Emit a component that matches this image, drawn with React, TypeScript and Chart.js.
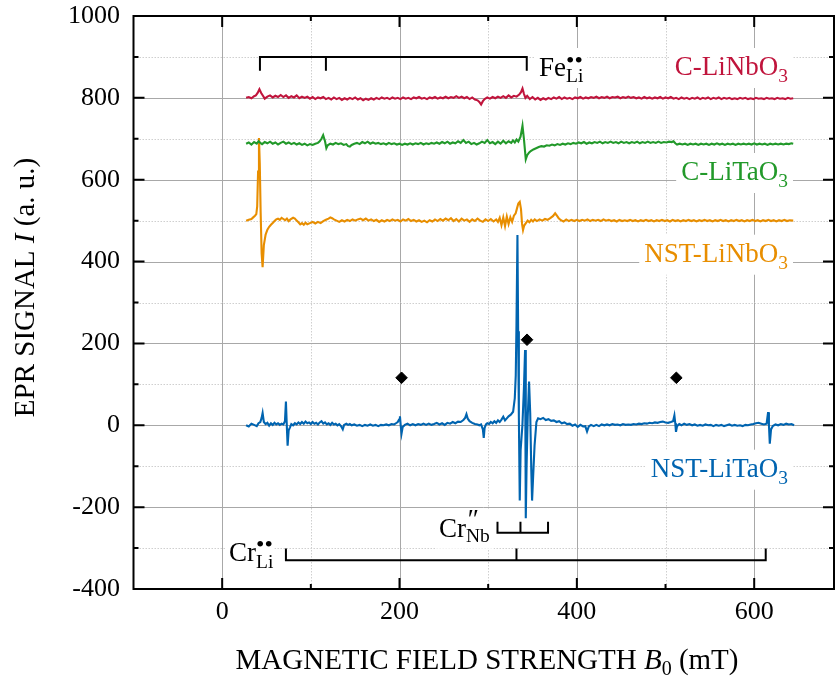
import React, { useEffect, useRef } from 'react';
import { Chart, registerables } from 'chart.js';
Chart.register(...registerables);

const FONT = '"Liberation Serif", "Times New Roman", serif';

// axis ticks
const fieldRange = [-100, 690];
const signalRange = [-400, 1000];
const fieldTicks = [0, 200, 400, 600];
const fieldMinor = [100, 300, 500];
const signalTicks = [-400, -200, 0, 200, 400, 600, 800, 1000];
const signalMinor = [-300, -100, 100, 300, 500, 700, 900];

// series [B0 (mT), I (a.u.)]
const cLiNbO3 = [[27,800],[30,802],[33,799],[36,804],[38,806],[40,812],[42,821],[44,812],[46,805],[48,798],[51,803],[54,806],[57,801],[60,805],[63,802],[66,807],[69,802],[72,806],[75,800],[78,804],[81,801],[84,806],[87,799],[90,803],[93,800],[96,803],[99,798],[102,802],[105,797],[108,801],[111,799],[114,802],[117,797],[120,800],[123,796],[126,801],[129,797],[132,800],[135,795],[138,799],[141,796],[144,800],[147,797],[150,801],[153,796],[156,799],[159,794],[162,798],[165,795],[168,799],[171,796],[174,800],[177,797],[180,801],[183,798],[186,800],[189,797],[192,801],[195,798],[198,800],[201,797],[204,801],[207,798],[210,800],[213,797],[216,801],[219,799],[222,802],[225,798],[228,800],[231,797],[234,801],[237,799],[240,802],[243,798],[246,801],[249,799],[252,803],[255,799],[258,802],[261,800],[264,804],[267,800],[270,803],[273,799],[276,802],[279,797],[282,801],[285,796],[288,794],[290,790],[292,784],[294,792],[296,797],[299,801],[302,798],[305,802],[308,799],[311,803],[314,800],[317,804],[320,800],[323,806],[326,801],[329,805],[332,803],[335,808],[337,814],[338.7,823],[340.3,810],[342,800],[344,805],[347,797],[350,802],[353,796],[356,800],[359,795],[362,799],[365,796],[368,800],[371,797],[374,801],[377,798],[380,802],[383,797],[386,801],[389,798],[392,800],[395,797],[398,801],[401,799],[404,802],[407,798],[410,801],[413,799],[416,802],[419,800],[422,803],[425,799],[428,802],[431,800],[434,803],[437,799],[440,802],[443,801],[446,803],[449,799],[452,802],[455,800],[458,803],[461,800],[464,802],[467,799],[470,801],[473,798],[476,802],[479,799],[482,801],[485,798],[488,801],[491,799],[494,802],[497,798],[500,801],[503,799],[506,802],[509,798],[512,800],[515,797],[518,801],[521,798],[524,800],[527,797],[530,800],[533,798],[536,801],[539,797],[542,800],[545,798],[548,801],[551,797],[554,800],[557,798],[560,801],[563,797],[566,800],[569,798],[572,800],[575,797],[578,799],[581,797],[584,800],[587,798],[590,800],[593,797],[596,799],[599,797],[602,800],[605,798],[608,799],[611,797],[614,800],[617,798],[620,799],[623,797],[626,800],[629,798],[632,799],[635,797],[638,800],[641,798],[644,799]];

const cLiTaO3 = [[27,688],[30,691],[33,686],[36,692],[39,688],[41,694],[43,690],[45,687],[48,692],[51,689],[54,693],[57,688],[60,691],[63,686],[66,690],[69,693],[72,688],[75,691],[78,687],[81,690],[84,686],[87,689],[90,685],[93,688],[96,684],[99,687],[102,685],[105,688],[108,690],[110,694],[112,700],[113.9,709],[116,694],[117.5,677],[119,684],[122,688],[125,686],[128,690],[131,687],[134,689],[137,685],[140,687],[142,682],[144,681],[146,685],[149,688],[152,690],[155,687],[158,692],[161,689],[164,693],[167,688],[170,691],[173,688],[176,690],[179,687],[182,689],[185,686],[188,690],[191,687],[194,689],[197,686],[200,688],[203,685],[206,688],[209,686],[212,689],[215,686],[218,689],[221,687],[224,690],[227,686],[230,689],[233,687],[236,690],[239,688],[242,691],[245,688],[248,692],[251,689],[254,693],[257,688],[260,691],[263,689],[266,694],[269,690],[272,697],[275,690],[278,693],[281,687],[284,690],[287,686],[290,689],[293,693],[296,690],[299,697],[302,689],[305,692],[308,687],[311,693],[314,688],[317,695],[320,689],[323,694],[326,690],[328,696],[330,691],[332,698],[334,693],[336.5,705],[338.7,732],[340.3,700],[342.4,650],[344,660],[346,666],[348,670],[351,674],[354,677],[357,680],[360,682],[363,681],[366,684],[369,683],[372,686],[375,684],[378,687],[381,685],[384,688],[387,686],[390,689],[393,687],[396,690],[399,688],[402,691],[405,689],[408,692],[411,688],[414,691],[417,689],[420,692],[423,690],[426,693],[429,689],[432,692],[435,690],[438,693],[441,690],[444,692],[447,689],[450,693],[453,690],[456,692],[459,689],[462,692],[465,690],[468,693],[471,689],[474,692],[477,690],[480,693],[483,690],[486,692],[489,690],[492,693],[495,690],[498,692],[501,691],[504,693],[507,692],[509,694],[511,689],[513,686],[516,688],[519,686],[522,688],[525,685],[528,688],[531,686],[534,688],[537,685],[540,688],[543,686],[546,688],[549,685],[552,688],[555,686],[558,689],[561,686],[564,688],[567,685],[570,688],[573,686],[576,688],[579,685],[582,688],[585,686],[588,688],[591,686],[594,688],[597,686],[600,689],[603,686],[606,688],[609,686],[612,688],[615,685],[618,688],[621,686],[624,688],[627,686],[630,688],[633,686],[636,688],[639,687],[642,689],[644,688]];

const nstLiNbO3 = [[27,500],[30,502],[33,504],[35,508],[37,512],[38.5,516],[39.5,535],[40.5,620],[41.5,702],[42.4,640],[43.4,520],[44.5,420],[45.6,386],[47,440],[49,466],[51,478],[53,485],[55,490],[57,494],[59,499],[61,503],[63,505],[65,502],[67,507],[69,504],[71,501],[73,505],[75,499],[77,503],[80,507],[82,505],[84,500],[86,496],[88,491],[90,494],[92,490],[94,495],[96,491],[99,494],[102,497],[105,493],[108,497],[111,494],[114,499],[117,502],[120,505],[122,508],[124,506],[126,503],[129,500],[132,497],[135,501],[138,498],[141,502],[144,499],[147,503],[150,500],[153,503],[156,505],[159,501],[162,505],[165,500],[168,503],[171,499],[174,502],[177,497],[180,501],[183,498],[186,502],[189,499],[192,503],[195,500],[198,502],[201,498],[204,503],[207,500],[210,504],[213,499],[216,502],[219,498],[222,501],[225,497],[228,500],[231,496],[234,501],[237,498],[240,503],[243,499],[246,504],[249,500],[252,505],[255,501],[258,506],[261,499],[264,504],[267,498],[270,505],[273,500],[276,503],[279,497],[282,503],[285,499],[288,505],[291,500],[294,497],[297,503],[300,499],[303,504],[306,498],[309,503],[311,497],[313,507],[315,489],[317,508],[319,487],[321,510],[323,492],[325,508],[327,497],[329,512],[331,518],[332.5,530],[334,542],[335.6,546],[337,528],[338.2,492],[339.3,477],[340.6,488],[342.5,494],[344.5,500],[346.5,496],[348.5,502],[350.5,498],[352.5,503],[355,499],[358,503],[361,500],[364,504],[367,502],[370,506],[373,511],[375.5,518],[377.5,512],[379.5,506],[382,501],[385,498],[388,503],[391,499],[394,502],[397,499],[400,502],[403,499],[406,502],[409,500],[412,503],[415,499],[418,502],[421,500],[424,502],[427,499],[430,503],[433,500],[436,502],[439,499],[442,501],[445,498],[448,502],[451,499],[454,501],[457,499],[460,502],[463,499],[466,501],[469,498],[472,501],[475,499],[478,502],[481,499],[484,501],[487,498],[490,501],[493,499],[496,502],[499,499],[502,501],[505,498],[508,502],[511,499],[514,501],[517,498],[520,501],[523,499],[526,502],[529,499],[532,501],[535,498],[538,501],[541,499],[544,502],[547,499],[550,501],[553,498],[556,501],[559,499],[562,502],[565,499],[568,501],[571,498],[574,501],[577,499],[580,502],[583,499],[586,501],[589,498],[592,501],[595,499],[598,502],[601,499],[604,501],[607,498],[610,501],[613,499],[616,502],[619,499],[622,501],[625,498],[628,501],[631,499],[634,502],[637,499],[640,501],[644,500]];

const nstLiTaO3 = [[27,0],[30,-3],[33,4],[36,1],[39,-2],[41,5],[43,8],[44.5,18],[45.6,30],[47,8],[49,3],[51,6],[53,-1],[55,5],[57,1],[59,6],[61,2],[63,5],[65,1],[67,4],[69,2],[70.8,10],[71.9,58],[72.7,10],[73.8,-50],[75,-12],[76.5,-5],[78,3],[80,0],[82,5],[84,2],[86,7],[88,3],[90,8],[92,4],[94,9],[96,5],[98,7],[100,3],[102,8],[104,4],[106,6],[108,2],[110,7],[112,10],[114,4],[116,7],[118,2],[120,5],[122,1],[124,6],[126,2],[128,4],[130,0],[132,3],[134,-2],[136,-10],[137.5,1],[140,4],[142,1],[144,3],[146,0],[149,2],[152,-1],[155,1],[158,-2],[161,1],[164,-1],[167,2],[170,-1],[173,1],[176,-2],[179,1],[182,0],[185,2],[188,0],[191,3],[194,2],[196,5],[198,8],[199.5,14],[200.5,22],[201.4,-2],[202.3,-20],[203.6,-4],[206,1],[209,4],[212,0],[215,3],[218,0],[221,3],[224,1],[227,4],[230,1],[233,4],[236,1],[239,3],[242,6],[245,2],[248,5],[251,1],[254,6],[257,4],[260,8],[263,5],[266,9],[269,8],[272,13],[274,18],[275.5,27],[277,16],[279,10],[282,6],[285,3],[288,2],[290,0],[292,2],[294,-10],[295,-31],[296,-6],[297.5,2],[299,5],[301,3],[303,8],[305,5],[307,10],[309,6],[311,12],[313,8],[315,14],[317,21],[319,12],[321,17],[323,22],[325.5,26],[328.1,33],[330,66],[331.1,122],[331.9,245],[333,465],[333.8,230],[334.6,20],[335.6,-184],[336.6,-60],[338.6,0],[340.3,90],[341.6,184],[342.4,-227],[343.3,-100],[344.6,20],[346.1,107],[347.4,30],[348.6,-110],[349.5,-184],[350.8,-120],[352.3,-50],[354.4,8],[356.3,17],[359,15],[362,18],[365,13],[368,15],[371,11],[374,12],[377,8],[380,10],[383,5],[386,7],[389,3],[392,4],[395,-1],[398,2],[401,-4],[404,1],[407,-3],[409.5,-2],[411.5,-15],[413.5,-3],[416,1],[419,-2],[422,1],[425,-2],[428,2],[431,0],[434,2],[437,0],[440,3],[443,1],[446,2],[449,0],[452,3],[455,1],[458,2],[461,1],[464,3],[467,2],[470,4],[473,3],[476,5],[479,4],[482,6],[485,5],[488,7],[491,6],[494,8],[497,9],[500,7],[503,6],[506,8],[508.5,10],[510,24],[511,5],[511.8,-16],[513,-2],[515.5,3],[518,0],[521,4],[524,1],[527,3],[530,0],[533,2],[536,-1],[539,1],[542,-1],[545,2],[548,0],[551,1],[554,-2],[557,1],[560,-1],[563,1],[566,-2],[569,0],[572,2],[575,-1],[578,1],[581,-1],[584,0],[587,-2],[590,1],[593,0],[596,2],[599,3],[602,5],[605,6],[608,4],[611,2],[614,4],[615.7,32],[616.6,2],[617.6,-45],[619,-10],[621,-2],[624,2],[627,0],[630,3],[633,1],[636,4],[639,2],[642,3],[645,0]];

// markers and assignment brackets
const diamonds = [[202.3,116],[343.8,209],[512.2,116]];
const feLiBracket = [[42.6,866],[42.6,900],[117,900],[117,866],[117,900],[343.5,900],[343.5,866]];
const crNbBracket = [[310.5,-235.6],[310.5,-262.5],[336.4,-262.5],[336.4,-235.6],[336.4,-262.5],[367.5,-262.5],[367.5,-235.6]];
const crLiBracket = [[71.9,-301],[71.9,-330],[331.9,-330],[331.9,-301],[331.9,-330],[613,-330],[613,-301]];

const COLORS = { red: '#c0143c', green: '#22992a', orange: '#e88e00', blue: '#0064b0' };

type Part = { t: string; size: number; italic?: boolean; dy?: number; sup?: { t: string; size: number; dy: number; dx?: number; italic?: boolean } };
const fnt = (size: number, italic = false) => `${italic ? 'italic ' : ''}${size}px ${FONT}`;

function partWidth(ctx: CanvasRenderingContext2D, p: Part) {
  ctx.font = fnt(p.size, p.italic);
  let w = ctx.measureText(p.t).width;
  if (p.sup) {
    ctx.font = fnt(p.sup.size, p.sup.italic);
    w = Math.max(w, ctx.measureText(p.sup.t).width + (p.sup.dx || 0));
  }
  return w;
}

function drawRich(ctx: CanvasRenderingContext2D, parts: Part[], x: number, y: number, align: 'left' | 'right' | 'center', color: string, box?: [number, number, number, number]) {
  const widths = parts.map((p) => partWidth(ctx, p));
  const total = widths.reduce((a, b) => a + b, 0);
  let cx = align === 'left' ? x : align === 'right' ? x - total : x - total / 2;
  if (box) {
    ctx.fillStyle = '#fff';
    ctx.fillRect(cx - box[0], y - box[1], total + box[0] + box[2], box[1] + box[3]);
  }
  ctx.fillStyle = color;
  ctx.textBaseline = 'alphabetic';
  ctx.textAlign = 'left';
  parts.forEach((p, i) => {
    ctx.font = fnt(p.size, p.italic);
    ctx.fillText(p.t, cx, y + (p.dy || 0));
    if (p.sup) {
      ctx.font = fnt(p.sup.size, p.sup.italic);
      ctx.fillText(p.sup.t, cx + (p.sup.dx || 0), y + p.sup.dy);
    }
    cx += widths[i];
  });
}

const decorPlugin = {
  id: 'decor',
  beforeDatasetsDraw(chart: any) {
    const { ctx, chartArea: a, scales } = chart;
    const xs = scales.x, ys = scales.y;
    ctx.save();
    ctx.lineWidth = 1;
    // grid
    const vline = (v: number) => { const p = Math.round(xs.getPixelForValue(v)) + 0.5; ctx.beginPath(); ctx.moveTo(p, a.top); ctx.lineTo(p, a.bottom); ctx.stroke(); };
    const hline = (v: number) => { const p = Math.round(ys.getPixelForValue(v)) + 0.5; ctx.beginPath(); ctx.moveTo(a.left, p); ctx.lineTo(a.right, p); ctx.stroke(); };
    ctx.strokeStyle = '#cfcfcf';
    ctx.setLineDash([1.5, 1.5]);
    fieldMinor.forEach(vline);
    signalMinor.forEach(hline);
    ctx.setLineDash([]);
    ctx.strokeStyle = '#a8a8a8';
    fieldTicks.filter((v) => v > fieldRange[0] && v < fieldRange[1]).forEach(vline);
    signalTicks.filter((v) => v > signalRange[0] && v < signalRange[1]).forEach(hline);

    // series labels
    const pad: [number, number, number, number] = [5, 27, 5, 13];
    drawRich(ctx, [{ t: 'C-LiNbO', size: 27 }, { t: '3', size: 19.5, dy: 7 }], 788, 75, 'right', COLORS.red, pad);
    drawRich(ctx, [{ t: 'C-LiTaO', size: 27 }, { t: '3', size: 19.5, dy: 7 }], 788, 180, 'right', COLORS.green, pad);
    drawRich(ctx, [{ t: 'NST-LiNbO', size: 27 }, { t: '3', size: 19.5, dy: 7 }], 788, 261.7, 'right', COLORS.orange, pad);
    drawRich(ctx, [{ t: 'NST-LiTaO', size: 27 }, { t: '3', size: 19.5, dy: 7 }], 788, 476.7, 'right', COLORS.blue, pad);

    // defect labels
    const dpad: [number, number, number, number] = [4, 28, 4, 12];
    drawRich(ctx, [{ t: 'Fe', size: 27 }, { t: 'Li', size: 19.5, dy: 6, sup: { t: '••', size: 24, dy: -8.5 } }], 539, 76, 'left', '#000', dpad);
    drawRich(ctx, [{ t: 'Cr', size: 27 }, { t: 'Nb', size: 19.5, dy: 5.6, sup: { t: '″', size: 27, dy: -8.5, dx: 0, italic: true } }], 439, 536.7, 'left', '#000', dpad);
    drawRich(ctx, [{ t: 'Cr', size: 27 }, { t: 'Li', size: 19.5, dy: 7, sup: { t: '••', size: 24, dy: -8.5 } }], 229, 560.7, 'left', '#000', [4, 28, 1, 12]);
    ctx.restore();
  },
  afterDatasetsDraw(chart: any) {
    const { ctx, chartArea: a, scales } = chart;
    const xs = scales.x, ys = scales.y;
    ctx.save();
    ctx.strokeStyle = '#000';
    ctx.lineWidth = 2;
    ctx.setLineDash([]);
    ctx.strokeRect(a.left, a.top, a.right - a.left, a.bottom - a.top);
    const tick = (len: number) => (v: number) => {
      const p = xs.getPixelForValue(v);
      ctx.beginPath();
      ctx.moveTo(p, a.bottom); ctx.lineTo(p, a.bottom - len);
      ctx.moveTo(p, a.top); ctx.lineTo(p, a.top + len);
      ctx.stroke();
    };
    const ytick = (len: number) => (v: number) => {
      const p = ys.getPixelForValue(v);
      ctx.beginPath();
      ctx.moveTo(a.left, p); ctx.lineTo(a.left + len, p);
      ctx.moveTo(a.right, p); ctx.lineTo(a.right - len, p);
      ctx.stroke();
    };
    fieldTicks.forEach(tick(11));
    fieldMinor.forEach(tick(5));
    signalTicks.forEach(ytick(11));
    signalMinor.forEach(ytick(5));

    // axis titles
    drawRich(ctx, [{ t: 'MAGNETIC FIELD STRENGTH ', size: 29 }, { t: 'B', size: 29, italic: true }, { t: '0', size: 20, dy: 6 }, { t: ' (mT)', size: 29 }], 487, 669.3, 'center', '#000');
    ctx.translate(34, 287.5);
    ctx.rotate(-Math.PI / 2);
    drawRich(ctx, [{ t: 'EPR SIGNAL ', size: 29 }, { t: 'I', size: 29, italic: true }, { t: ' (a. u.)', size: 29 }], 0, 0, 'center', '#000');
    ctx.restore();
  },
};

const toXY = (arr: number[][]) => arr.map(([x, y]) => ({ x, y }));
const noEdgePadding = (s: any) => { s.paddingTop = 0; s.paddingBottom = 0; s.paddingLeft = 0; s.paddingRight = 0; };

export default function App() {
  const ref = useRef<HTMLCanvasElement>(null);
  useEffect(() => {
    if (!ref.current) return;
    const line = (data: number[][], color: string, w = 2.1) => ({
      data: toXY(data), borderColor: color, borderWidth: w, pointRadius: 0, fill: false, tension: 0,
      borderJoinStyle: 'miter' as const, borderCapStyle: 'butt' as const,
    });
    const chart = new Chart(ref.current, {
      type: 'line',
      data: {
        datasets: [
          line(cLiNbO3, COLORS.red),
          line(cLiTaO3, COLORS.green),
          line(nstLiNbO3, COLORS.orange),
          line(nstLiTaO3, COLORS.blue),
          line(feLiBracket, '#000', 2),
          line(crNbBracket, '#000', 2),
          line(crLiBracket, '#000', 2),
          {
            data: toXY(diamonds), showLine: false, pointStyle: 'rectRot', pointRadius: 5.8,
            backgroundColor: '#000', borderColor: '#000', borderWidth: 1,
          } as any,
        ],
      },
      options: {
        animation: false,
        responsive: false,
        devicePixelRatio: 1,
        layout: { autoPadding: false, padding: { left: 0, right: 1, top: 16, bottom: 0 } },
        plugins: { legend: { display: false }, tooltip: { enabled: false } },
        scales: {
          x: {
            type: 'linear', min: fieldRange[0], max: fieldRange[1],
            grid: { display: false, drawTicks: false }, border: { display: false },
            ticks: { font: { family: FONT, size: 26 }, color: '#000', padding: 8, callback: (v: any) => String(v) },
            afterBuildTicks: (s: any) => { s.ticks = fieldTicks.map((value) => ({ value })); },
            afterFit: (s: any) => { s.height = 90; noEdgePadding(s); },
          },
          y: {
            type: 'linear', min: signalRange[0], max: signalRange[1],
            grid: { display: false, drawTicks: false }, border: { display: false },
            ticks: { font: { family: FONT, size: 26 }, color: '#000', padding: 13.5, callback: (v: any) => String(v) },
            afterBuildTicks: (s: any) => { s.ticks = signalTicks.map((value) => ({ value })); },
            afterFit: (s: any) => { s.width = 133.5; noEdgePadding(s); },
          },
        },
      },
      plugins: [decorPlugin],
    });
    return () => chart.destroy();
  }, []);
  return (
    <div style={{ position: 'fixed', left: 0, top: 0, width: 835, height: 679, background: '#fff' }}>
      <canvas ref={ref} width={835} height={679} style={{ display: 'block' }} />
    </div>
  );
}
